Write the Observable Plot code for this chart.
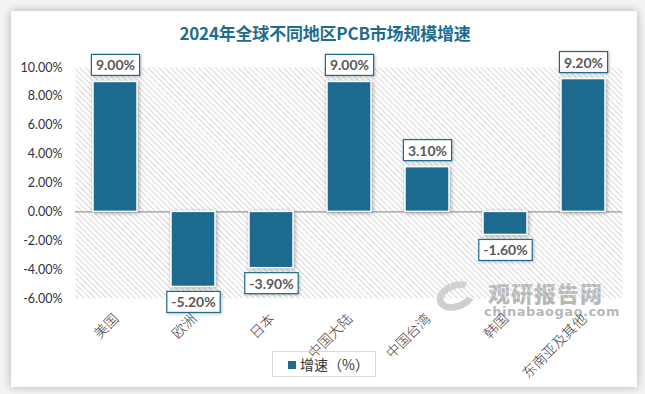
<!DOCTYPE html>
<html>
<head>
<meta charset="utf-8">
<script src="https://cdn.jsdelivr.net/npm/d3@7"></script>
<script src="https://cdn.jsdelivr.net/npm/@observablehq/plot@0.6"></script>
<style>
  html, body { margin: 0; padding: 0; width: 645px; height: 394px; overflow: hidden; background: #f4f4f4; }
  #card { position: absolute; left: 11px; top: 11px; width: 626px; height: 376px; background: #fff;
          box-shadow: 0 0 9px rgba(0,0,0,0.28); }
  #title { position: absolute; left: 0; top: 21px; width: 650px; text-align: center;
           font-family: "Noto Sans CJK SC", sans-serif; font-weight: bold; font-size: 17px; line-height: 24px; color: #1f6d8c; letter-spacing: -0.2px; }
  #chart { position: absolute; left: 0; top: 0; }
  #legend { position: absolute; left: 272px; top: 351px; width: 104px; height: 26px; border: 1px solid #d9d9d9;
            font-family: "Noto Sans CJK SC", sans-serif; font-size: 14px; color: #333; box-sizing: border-box; }
  #legend .sw { position: absolute; left: 15px; top: 9px; width: 8px; height: 8px; background: #1c6a8e; }
  #legend .lt { position: absolute; left: 27px; top: 1px; line-height: 22px; }
  #wm { position: absolute; left: 488px; top: 279px; font-family: "Noto Sans CJK SC", sans-serif; color: rgba(120,120,120,0.55); }
  #wm .a { font-size: 22px; font-weight: 900; letter-spacing: 1px; line-height: 26px; }
  #wm .b { font-size: 13px; font-weight: bold; line-height: 14px; font-family: "DejaVu Sans", sans-serif; letter-spacing: 0.5px; margin-left: -4px; }
  #logo { position: absolute; left: 436px; top: 282px; width: 40px; height: 28px; border-radius: 50%;
          border: 7px solid rgba(150,150,150,0.45); border-right-color: transparent; box-sizing: border-box; transform: rotate(-20deg); }
  g[aria-label="bar"] rect { filter: drop-shadow(1px 1px 2px rgba(0,0,0,0.35)); }
  g[aria-label="labelbox"] rect { filter: drop-shadow(1px 1px 1.5px rgba(0,0,0,0.25)); }
</style>
</head>
<body>
<div id="card"></div>
<div id="logo"></div>
<div id="wm"><div class="a">观研报告网</div><div class="b">chinabaogao.com</div></div>
<div id="chart"></div>
<div id="title">2024年全球不同地区PCB市场规模增速</div>
<div id="legend"><div class="sw"></div><div class="lt">增速（%）</div></div>
<script>
const categories = ["美国", "欧洲", "日本", "中国大陆", "中国台湾", "韩国", "东南亚及其他"];
const values = [9.00, -5.20, -3.90, 9.00, 3.10, -1.60, 9.20];
const yTicks = [-6, -4, -2, 0, 2, 4, 6, 8, 10];

const data = categories.map((c, i) => ({category: c, value: values[i], label: values[i].toFixed(2) + "%"}));
const barColor = "#1c6a8e";
const labelFont = "Lato, 'Noto Sans', sans-serif";

const plot = Plot.plot({
  width: 645,
  height: 394,
  marginTop: 67,
  marginBottom: 96,
  marginLeft: 75,
  marginRight: 23,
  style: {background: "transparent", overflow: "visible"},
  x: {domain: categories, paddingInner: 0.44, paddingOuter: 0.22, label: null},
  y: {domain: [-6, 10], label: null},
  marks: [
    Plot.frame({fill: "url(#hatch)", stroke: null}),
    Plot.axisY({ticks: yTicks, tickFormat: d => d.toFixed(2) + "%", tickSize: 0, tickPadding: 13,
                fontSize: 12.5, fontFamily: labelFont, fill: "#333", label: null}),
    Plot.axisX({tickRotate: -45, tickSize: 0, tickPadding: 10, fontSize: 14, dx: 1, dy: 8,
                fontFamily: "'Noto Sans CJK SC', sans-serif", fontWeight: 300, fill: "#404040", label: null}),
    Plot.ruleY([0], {stroke: "#9a9a9a", strokeWidth: 1.2}),
    Plot.barY(data, {x: "category", y: "value", fill: barColor, stroke: "#fff", strokeWidth: 1.5}),
    Plot.text(data.filter(d => d.value >= 0), {x: "category", y: "value", text: "label", dy: -16,
                     fontSize: 14, fontWeight: "bold", fill: "#595959", fontFamily: labelFont}),
    Plot.text(data.filter(d => d.value < 0), {x: "category", y: "value", text: "label", dy: 16,
                     fontSize: 14, fontWeight: "bold", fill: "#595959", fontFamily: labelFont})
  ]
});
document.getElementById("chart").appendChild(plot);

// hatch pattern definition
const svg = d3.select(plot);
const defs = svg.insert("defs", ":first-child");
const pat = defs.append("pattern").attr("id", "hatch").attr("patternUnits", "userSpaceOnUse")
  .attr("width", 4).attr("height", 4).attr("patternTransform", "rotate(-45)");
pat.append("line").attr("x1", 0.5).attr("y1", 0).attr("x2", 0.5).attr("y2", 4)
  .attr("stroke", "#d8d8d8").attr("stroke-width", 1);

// boxes behind data labels
const boxG = svg.append("g").attr("aria-label", "labelbox");
const labelGroups = svg.selectAll('g[aria-label="text"]');
labelGroups.selectAll("text").each(function () {
  const b = this.getBBox();
  const ctm = this.getCTM();
  const p = plot.createSVGPoint();
  p.x = b.x; p.y = b.y;
  const q = p.matrixTransform(ctm);
  boxG.append("rect")
    .attr("x", q.x - 4.5).attr("y", q.y - 2)
    .attr("width", b.width + 9).attr("height", b.height + 4)
    .attr("fill", "#fff").attr("stroke", barColor).attr("stroke-width", 1.2);
});
labelGroups.raise();
</script>
</body>
</html>
